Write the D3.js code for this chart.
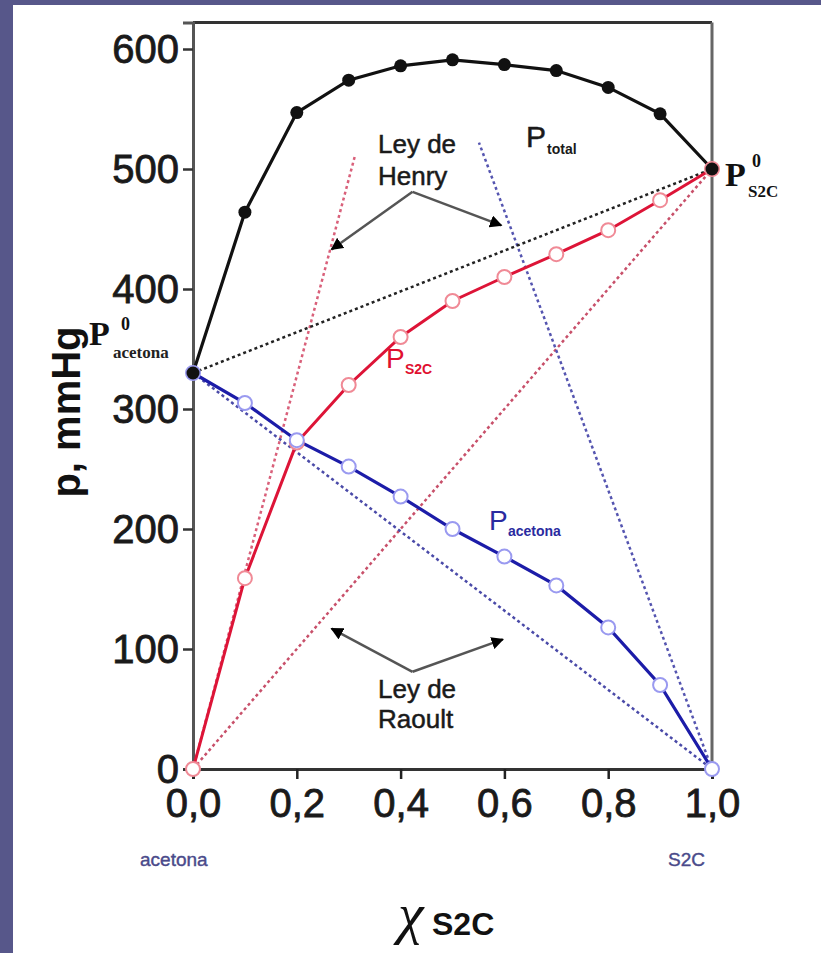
<!DOCTYPE html>
<html><head><meta charset="utf-8">
<script src="https://cdn.jsdelivr.net/npm/d3@7"></script>
<style>body{margin:0;background:#fff;} svg{display:block}</style>
</head><body><svg id="c" width="821" height="953"></svg>
<script>
// ---- data ----
const xFrac    = [0, 0.1, 0.2, 0.3, 0.4, 0.5, 0.6, 0.7, 0.8, 0.9, 1.0];
const pTotal   = [330, 464, 547, 574, 586, 591, 587, 582, 568, 546, 500];
const pS2C     = [0, 159, 272, 320, 360, 390, 410, 429, 449, 474, 500];
const pAcetona = [330, 305, 274, 252, 227, 200, 177, 153, 118, 70, 0];
const yTicks = [0, 100, 200, 300, 400, 500, 600];
const xTicks = [0, 0.2, 0.4, 0.6, 0.8, 1.0];
const raoultTotal    = [[0, 330], [1, 500]];
const raoultS2C      = [[0, 0], [1, 500]];
const raoultAcetona  = [[0, 330], [1, 0]];
const henryS2C       = [[0, 0], [0.312, 511]];
const henryAcetona   = [[1, 0], [0.551, 522]];
const henryArrows  = {from: [0.423, 481], to: [[0.267, 433], [0.594, 453]]};
const raoultArrows = {from: [0.423, 81],  to: [[0.267, 117], [0.597, 108]]};

// ---- layout ----
const svg = d3.select("#c");
svg.append("rect").attr("width", 821).attr("height", 953).attr("fill", "#57578a");
svg.append("rect").attr("x", 13).attr("y", 5).attr("width", 808).attr("height", 948).attr("fill", "#fff");

const x = d3.scaleLinear().domain([0, 1]).range([193, 712]);
const y = d3.scaleLinear().domain([0, 622]).range([769, 22.6]);

const g = svg.append("g");
// frame
g.append("line").attr("x1", x(0)).attr("x2", x(1)).attr("y1", y(622)).attr("y2", y(622)).attr("stroke", "#333").attr("stroke-width", 3);
g.append("line").attr("x1", x(1)).attr("x2", x(1)).attr("y1", y(622)).attr("y2", y(0)).attr("stroke", "#666").attr("stroke-width", 3);

const sans = "Liberation Sans, Arial, sans-serif";
const serif = "Liberation Serif, Times New Roman, serif";

// axes
const yAxis = g.append("g").attr("transform", `translate(${x(0)},0)`)
  .call(d3.axisLeft(y).tickValues(yTicks).tickSize(10).tickPadding(4).tickFormat(d3.format("d")));
yAxis.select(".domain").attr("stroke", "#555").attr("stroke-width", 3);
yAxis.selectAll(".tick line").attr("stroke", "#333").attr("stroke-width", 2.5);
yAxis.selectAll(".tick text").attr("font-family", sans).attr("font-size", 40).attr("fill", "#1a1a1a")
  .attr("stroke", "#1a1a1a").attr("stroke-width", 0.8).attr("dy", "0.34em");

const xAxis = g.append("g").attr("transform", `translate(0,${y(0)})`)
  .call(d3.axisBottom(x).tickValues(xTicks).tickSize(10).tickPadding(16).tickFormat(d => d3.format(".1f")(d).replace(".", ",")));
xAxis.select(".domain").attr("stroke", "#333").attr("stroke-width", 3);
xAxis.selectAll(".tick line").attr("stroke", "#222").attr("stroke-width", 2.5);
xAxis.selectAll(".tick text").attr("font-family", sans).attr("font-size", 40).attr("fill", "#1a1a1a")
  .attr("stroke", "#1a1a1a").attr("stroke-width", 0.8).attr("dy", "0.55em");

// dotted lines
const ln = d3.line().x(d => x(d[0])).y(d => y(d[1]));
function dotted(data, color) {
  g.append("path").attr("d", ln(data)).attr("fill", "none").attr("stroke", color)
    .attr("stroke-width", 2.5).attr("stroke-dasharray", "3,3");
}
dotted(henryS2C, "#d9607a");
dotted(raoultS2C, "#c8506a");
dotted(henryAcetona, "#5555b0");
dotted(raoultAcetona, "#4a4aa8");
dotted(raoultTotal, "#222");

// series
const pts = arr => xFrac.map((v, i) => [v, arr[i]]);
g.append("path").attr("d", ln(pts(pS2C))).attr("fill", "none").attr("stroke", "#dd1437").attr("stroke-width", 3);
g.append("path").attr("d", ln(pts(pAcetona))).attr("fill", "none").attr("stroke", "#1c1ca8").attr("stroke-width", 3.2);
g.append("path").attr("d", ln(pts(pTotal))).attr("fill", "none").attr("stroke", "#111").attr("stroke-width", 3.2);

g.selectAll(".cs").data(pts(pS2C)).join("circle").attr("cx", d => x(d[0])).attr("cy", d => y(d[1]))
  .attr("r", 7).attr("fill", "#fff").attr("stroke", "#f08a96").attr("stroke-width", 2);
g.selectAll(".ca").data(pts(pAcetona)).join("circle").attr("cx", d => x(d[0])).attr("cy", d => y(d[1]))
  .attr("r", 7).attr("fill", "#fff").attr("stroke", "#9a9af0").attr("stroke-width", 2);
g.selectAll(".ct").data(pts(pTotal)).join("circle").attr("cx", d => x(d[0])).attr("cy", d => y(d[1]))
  .attr("r", 6.5).attr("fill", "#111");

// arrows
const defs = svg.append("defs");
defs.append("marker").attr("id", "ah").attr("viewBox", "0 0 10 10").attr("refX", 9).attr("refY", 5)
  .attr("markerWidth", 5).attr("markerHeight", 5).attr("orient", "auto").attr("markerUnits", "strokeWidth")
  .append("path").attr("d", "M0,0L10,5L0,10Z").attr("fill", "#000");
function arrows(a) {
  a.to.forEach(t => {
    g.append("line").attr("x1", x(a.from[0])).attr("y1", y(a.from[1])).attr("x2", x(t[0])).attr("y2", y(t[1]))
      .attr("stroke", "#555").attr("stroke-width", 2.5).attr("marker-end", "url(#ah)");
  });
}
arrows(henryArrows);
arrows(raoultArrows);

// text
function txt(px, py, s, size, opts = {}) {
  const t = g.append("text").attr("x", px).attr("y", py).text(s).attr("font-family", opts.font || sans)
    .attr("font-size", size).attr("fill", opts.fill || "#1a1a1a").attr("font-weight", opts.weight || "normal")
    .attr("text-anchor", opts.anchor || "start");
  if (opts.italic) t.attr("font-style", "italic");
  if (opts.thick) t.attr("stroke", opts.fill || "#1a1a1a").attr("stroke-width", opts.thick);
  return t;
}
txt(378, 153, "Ley de", 26, {thick: 0.5});
txt(378, 185, "Henry", 26, {thick: 0.5});
txt(378, 698, "Ley de", 26, {thick: 0.5});
txt(378, 728, "Raoult", 26, {thick: 0.5});

// P_total
txt(526, 147, "P", 30, {thick: 0.5});
txt(547, 154, "total", 14, {weight: "bold"});
// P_S2C
txt(386, 368, "P", 28, {fill: "#e01030"});
txt(405, 374, "S2C", 14, {fill: "#e01030", weight: "bold"});
// P_acetona
txt(489, 530, "P", 28, {fill: "#2a2aa0"});
txt(508, 536, "acetona", 14, {fill: "#2a2aa0", weight: "bold"});
// P0 S2C
txt(725, 186, "P", 34, {font: serif, weight: "bold", fill: "#111"});
txt(752, 167, "0", 18, {font: serif, weight: "bold", fill: "#111"});
txt(748, 197, "S2C", 17, {font: serif, weight: "bold", fill: "#111"});
// P0 acetona
txt(89, 345, "P", 34, {font: serif, weight: "bold", fill: "#111"});
txt(121, 330, "0", 18, {font: serif, weight: "bold", fill: "#111"});
txt(113, 358, "acetona", 17, {font: serif, weight: "bold", fill: "#222"});

// axis titles
g.append("text").attr("transform", "translate(80,412) rotate(-90)").attr("text-anchor", "middle")
  .attr("font-family", sans).attr("font-weight", "bold").attr("font-size", 40).attr("fill", "#111").text("p, mmHg");
txt(398, 933, "χ", 58, {fill: "#111", font: serif, italic: true});
txt(432, 935, "S2C", 32, {fill: "#111", weight: "bold"});
txt(140, 866, "acetona", 19, {fill: "#4a4a8a", thick: 0.4});
txt(668, 866, "S2C", 19, {fill: "#4a4a8a", thick: 0.4});
</script></body></html>
